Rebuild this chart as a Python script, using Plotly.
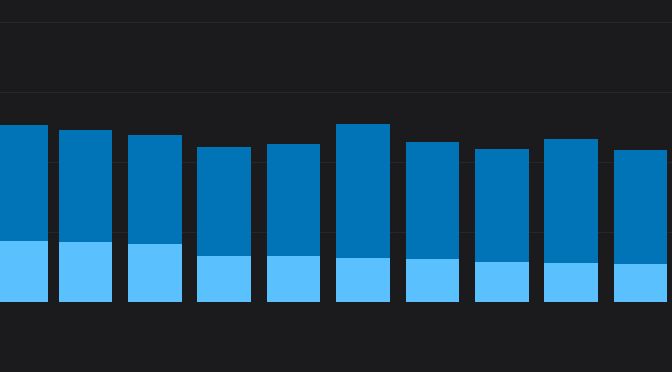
import plotly.graph_objects as go

categories = ["A", "B", "C", "D", "E", "F", "G", "H", "I", "J"]
base_values = [17.3, 17.1, 16.7, 13.2, 13.1, 12.7, 12.3, 11.4, 11.1, 10.9]
top_values = [33.3, 32.0, 30.9, 31.1, 32.0, 38.2, 33.3, 32.2, 35.5, 32.4]

x = list(range(len(categories)))
bar_w = 0.773
widths = [0.93] + [bar_w] * (len(categories) - 1)

fig = go.Figure()
fig.add_trace(go.Bar(x=x, y=base_values, width=widths, marker=dict(color="#5ac1fe", line=dict(width=0)),
                     hoverinfo="skip", name="base"))
fig.add_trace(go.Bar(x=x, y=top_values, width=widths, marker=dict(color="#0173b7", line=dict(width=0)),
                     hoverinfo="skip", name="top"))

fig.update_layout(
    barmode="stack",
    width=672, height=372,
    margin=dict(l=0, r=0, t=0, b=70),
    paper_bgcolor="#1b1b1d",
    plot_bgcolor="#1b1b1d",
    showlegend=False,
    xaxis=dict(range=[-0.232, 9.454], showgrid=False, zeroline=False, showticklabels=False,
               ticks="", showline=False),
    yaxis=dict(range=[0, 302 / 3.5], dtick=20, tick0=0, showgrid=True, gridcolor="#23282c",
               gridwidth=1, zeroline=False, showticklabels=False, ticks="", showline=False),
)

fig.write_html("out.html", config={"displayModeBar": False, "staticPlot": True})
